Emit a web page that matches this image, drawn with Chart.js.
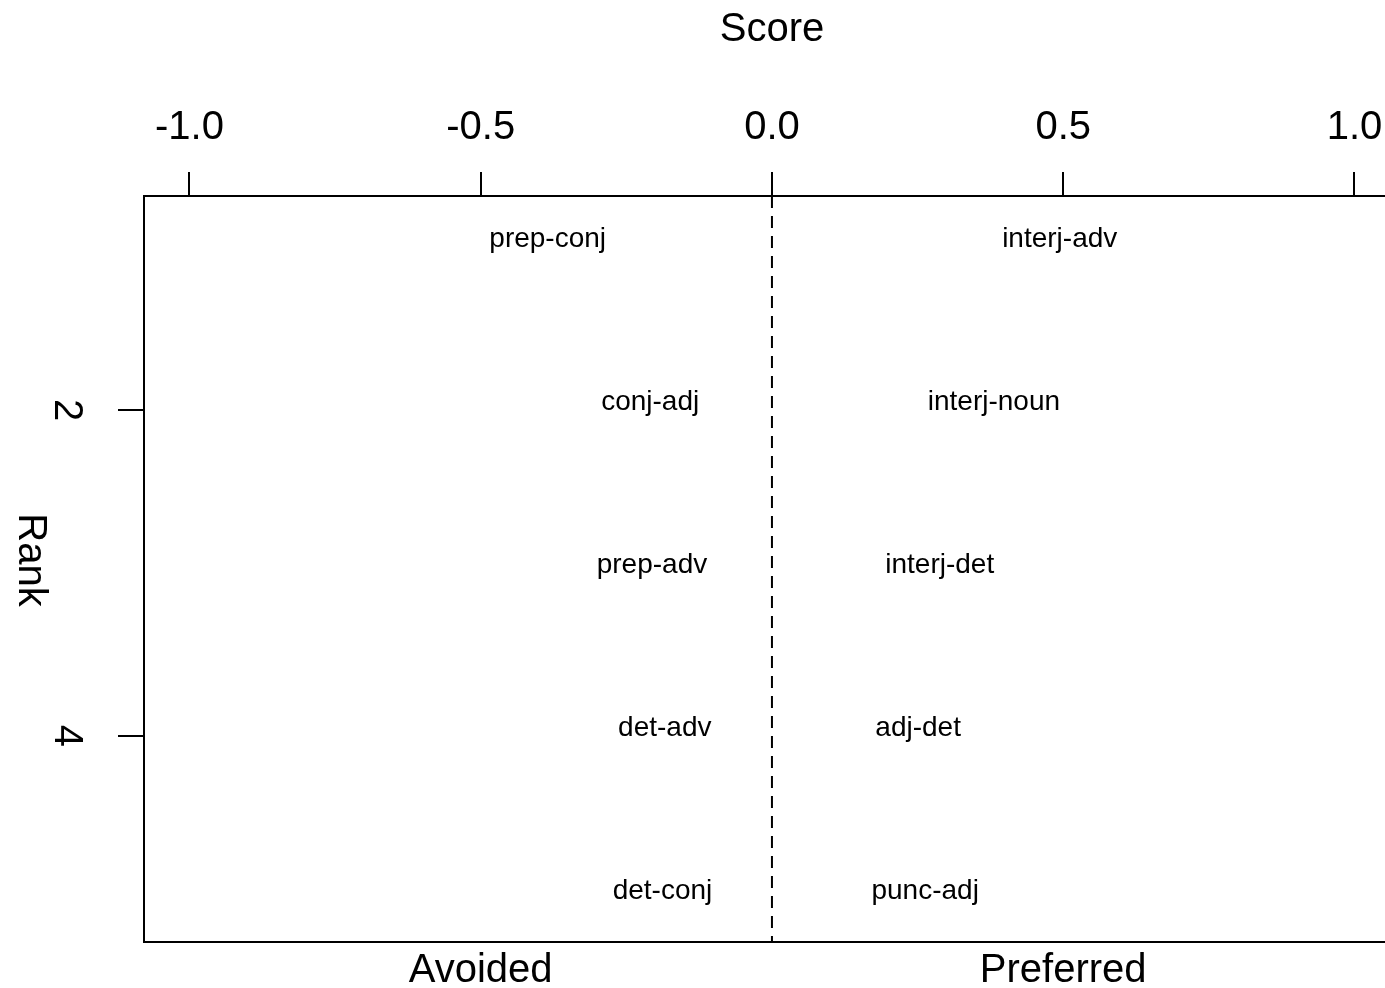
<!DOCTYPE html>
<html>
<head>
<meta charset="utf-8">
<script src="https://cdn.jsdelivr.net/npm/chart.js@4"></script>
<style>
  html, body { margin: 0; padding: 0; background: #ffffff; }
  canvas { display: block; }
</style>
</head>
<body>
<canvas id="grafico" width="1385" height="988"></canvas>
<script>
// Dados
const ranks = [1, 2, 3, 4, 5];
const avoidedLabels = ['prep-conj', 'conj-adj', 'prep-adv', 'det-adv', 'det-conj'];
const avoidedScores = [-0.385, -0.209, -0.206, -0.184, -0.188];
const preferredLabels = ['interj-adv', 'interj-noun', 'interj-det', 'adj-det', 'punc-adj'];
const preferredScores = [0.494, 0.381, 0.288, 0.251, 0.263];
const xTicks = [-1.0, -0.5, 0.0, 0.5, 1.0];
const yTicks = [2, 4];
const sideTicks = [-0.5, 0.5];
const sideLabels = ['Avoided', 'Preferred'];

const fonte = "'Liberation Sans', Arial, Helvetica, sans-serif";
const preto = '#000000';

const data = {
   datasets: [
      {
         label: 'Avoided',
         data: ranks.map((r, i) => ({ x: avoidedScores[i], y: r })),
         words: avoidedLabels,
         pointRadius: 0,
         showLine: false
      },
      {
         label: 'Preferred',
         data: ranks.map((r, i) => ({ x: preferredScores[i], y: r })),
         words: preferredLabels,
         pointRadius: 0,
         showLine: false
      }
   ]
};

// Plugin: linha tracejada em zero, textos, titulo e eixo esquerdo girado
const extras = {
   id: 'extras',
   afterDatasetsDraw(chart) {
      const ctx = chart.ctx;
      const area = chart.chartArea;
      const x0 = chart.scales.x.getPixelForValue(0);
      ctx.save();
      ctx.strokeStyle = preto;
      ctx.lineWidth = 2;
      ctx.setLineDash([12, 8]);
      ctx.beginPath();
      ctx.moveTo(x0, area.top);
      ctx.lineTo(x0, area.bottom);
      ctx.stroke();
      ctx.setLineDash([]);

      ctx.fillStyle = preto;
      ctx.font = '28px ' + fonte;
      ctx.textAlign = 'center';
      ctx.textBaseline = 'alphabetic';
      chart.data.datasets.forEach((ds, di) => {
         chart.getDatasetMeta(di).data.forEach((el, i) => {
            ctx.fillText(ds.words[i], el.x, el.y);
         });
      });

      // titulo do eixo x, centrado em zero
      ctx.font = '40px ' + fonte;
      ctx.textBaseline = 'middle';
      ctx.fillText('Score', x0, 30);

      // rótulos do eixo y, girados
      const y = chart.scales.y;
      yTicks.forEach(v => {
         ctx.save();
         ctx.translate(66, y.getPixelForValue(v));
         ctx.rotate(Math.PI / 2);
         ctx.fillText(String(v), 0, 0);
         ctx.restore();
      });
      ctx.save();
      ctx.translate(30, (area.top + area.bottom) / 2 - 9);
      ctx.rotate(Math.PI / 2);
      ctx.fillText('Rank', 0, 0);
      ctx.restore();
      ctx.restore();
   }
};

const semPadding = (s) => { s.paddingLeft = 0; s.paddingRight = 0; };

const options = {
   responsive: false,
   animation: false,
   layout: { padding: 0 },
   plugins: {
      legend: { display: false },
      tooltip: { enabled: false }
   },
   scales: {
      x: {
         type: 'linear',
         position: 'top',
         min: -1.078,
         max: 1.0524,
         afterBuildTicks: (s) => { s.ticks = xTicks.map(v => ({ value: v })); },
         afterFit: (s) => { s.height = 196; semPadding(s); },
         ticks: {
            color: preto,
            font: { family: fonte, size: 40 },
            padding: 20,
            maxRotation: 0,
            callback: (v) => Number(v).toFixed(1)
         },
         grid: {
            drawOnChartArea: false,
            color: preto,
            lineWidth: 2,
            tickLength: 24
         },
         border: { display: true, color: preto, width: 2 }
      },
      x2: {
         type: 'linear',
         position: 'bottom',
         min: -1.078,
         max: 1.0524,
         afterBuildTicks: (s) => { s.ticks = sideTicks.map(v => ({ value: v })); },
         afterFit: (s) => { s.height = 46; semPadding(s); },
         ticks: {
            color: preto,
            font: { family: fonte, size: 40 },
            padding: 5,
            maxRotation: 0,
            callback: (v) => sideLabels[sideTicks.indexOf(v)]
         },
         grid: { display: false, drawTicks: false },
         border: { display: true, color: preto, width: 2 }
      },
      y: {
         type: 'linear',
         position: 'left',
         reverse: true,
         min: 0.687,
         max: 5.264,
         afterBuildTicks: (s) => { s.ticks = yTicks.map(v => ({ value: v })); },
         afterFit: (s) => { s.width = 144; s.paddingTop = 0; s.paddingBottom = 0; },
         ticks: { display: false },
         grid: {
            drawOnChartArea: false,
            color: preto,
            lineWidth: 2,
            tickLength: 26
         },
         border: { display: true, color: preto, width: 2 }
      }
   }
};

const grafico = document.getElementById('grafico').getContext('2d');
const chart = new Chart(grafico, {
   type: 'scatter',
   data,
   options,
   plugins: [extras]
});
</script>
</body>
</html>
